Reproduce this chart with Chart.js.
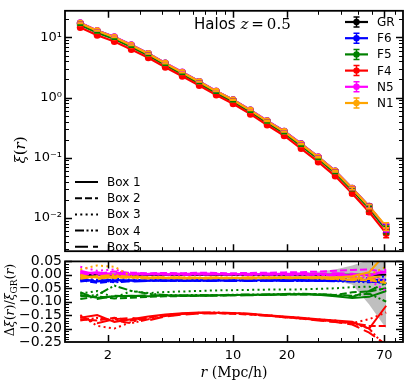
<!DOCTYPE html>
<html>
<head>
<meta charset="utf-8">
<script src="https://cdn.jsdelivr.net/npm/chart.js@4.4.1/dist/chart.umd.min.js"></script>
<style>
body { margin: 0; background: #fff; }
#wrap { position: relative; width: 410px; height: 385px; overflow: hidden; font-family: "DejaVu Sans", sans-serif; color: #000; }
.pane { position: absolute; left: 0; width: 410px; }
.lbl { position: absolute; white-space: nowrap; line-height: 14px; }
.math { font-family: "DejaVu Serif", serif; }
.rot { transform: translate(-50%, -50%) rotate(-90deg); }
</style>
</head>
<body>
<div id="wrap">
  <div class="pane" style="top:250px;height:135px"><canvas id="ratio"></canvas></div>
  <div class="pane" style="top:0;height:262px"><canvas id="xi"></canvas></div>
  <div class="lbl" style="left:194px;top:16px;font-size:15px;line-height:16px">Halos <span class="math"><i>z</i>&#8201;=&#8201;0.5</span></div>
  <div class="lbl rot math" style="left:20px;top:150px;font-size:15px"><i>ξ</i>(<i>r</i>)</div>
  <div class="lbl rot math" style="left:12px;top:300px;font-size:12.5px">Δ<i>ξ</i>(<i>r</i>)/<i>ξ</i><sub style="font-size:9px">GR</sub>(<i>r</i>)</div>
  <div class="lbl math" style="left:234px;top:372px;font-size:14px;transform:translate(-50%,-50%)"><i>r</i> (Mpc/h)</div>
</div>
<script>
'use strict';

// separation bins (Mpc/h)
var rVals = [1.40, 1.74, 2.17, 2.70, 3.36, 4.18, 5.20, 6.47, 8.05, 10.0, 12.5, 15.5, 19.3, 24.0, 29.9, 37.2, 46.3, 57.6, 71.7];

var models = ['GR', 'F6', 'F5', 'F4', 'N5', 'N1'];
var boxNames = ['Box 1', 'Box 2', 'Box 3', 'Box 4', 'Box 5'];
var colors = ['#000000', '#0000ff', '#008000', '#ff0000', '#ff00ff', '#ffa500'];
var boxDash = [[], [7, 3], [2, 3.3], [9, 2.5, 2, 2.5, 2, 2.5], [13, 5]];

// xi(r), mean over boxes
var xiGR = [17.5, 13.0, 10.2, 7.5, 5.4, 3.75, 2.65, 1.85, 1.28, 0.92, 0.62, 0.41, 0.275, 0.17, 0.103, 0.060, 0.031, 0.0155, 0.0068];
var xiF6 = [17.15, 12.74, 10.0, 7.35, 5.29, 3.67, 2.6, 1.81, 1.25, 0.90, 0.607, 0.402, 0.27, 0.167, 0.101, 0.0588, 0.0304, 0.0152, 0.0067];
var xiF5 = [16.2, 12.0, 9.43, 6.94, 5.0, 3.47, 2.45, 1.71, 1.18, 0.851, 0.574, 0.38, 0.254, 0.157, 0.0955, 0.0555, 0.0287, 0.0143, 0.0063];
var xiF4 = [14.7, 10.9, 8.57, 6.3, 4.6, 3.2, 2.27, 1.59, 1.10, 0.79, 0.53, 0.35, 0.232, 0.142, 0.085, 0.0495, 0.0253, 0.0125, 0.0055];
var xiN5 = [17.6, 13.1, 10.25, 7.54, 5.43, 3.77, 2.66, 1.86, 1.285, 0.924, 0.623, 0.412, 0.276, 0.171, 0.1035, 0.0602, 0.0311, 0.0156, 0.0069];
var xiN1 = [17.3, 12.9, 10.1, 7.43, 5.35, 3.71, 2.62, 1.83, 1.27, 0.91, 0.614, 0.406, 0.272, 0.168, 0.102, 0.0594, 0.0307, 0.0154, 0.0072];
// fractional error on xi
var relErr = [0.01, 0.01, 0.01, 0.01, 0.01, 0.01, 0.01, 0.01, 0.01, 0.01, 0.01, 0.01, 0.012, 0.015, 0.02, 0.03, 0.05, 0.08, 0.15];

// delta xi / xi_GR, one row per box
var dGR = [0, 0, 0, 0, 0, 0, 0, 0, 0, 0, 0, 0, 0, 0, 0, 0, 0, 0, 0];
var dF6 = [
  [-0.015, -0.025, -0.02, -0.02, -0.022, -0.02, -0.021, -0.02, -0.02, -0.021, -0.02, -0.02, -0.019, -0.02, -0.021, -0.02, -0.022, -0.02, -0.018],
  [-0.02, -0.03, -0.025, -0.022, -0.02, -0.023, -0.022, -0.021, -0.022, -0.02, -0.021, -0.022, -0.021, -0.02, -0.019, -0.021, -0.02, -0.024, -0.03],
  [-0.01, -0.02, -0.015, -0.018, -0.02, -0.019, -0.018, -0.02, -0.019, -0.018, -0.02, -0.019, -0.02, -0.018, -0.017, -0.018, -0.016, -0.012, -0.005],
  [-0.025, -0.018, -0.028, -0.024, -0.021, -0.022, -0.023, -0.022, -0.021, -0.022, -0.023, -0.022, -0.022, -0.023, -0.022, -0.024, -0.025, -0.028, -0.02],
  [-0.02, -0.022, -0.018, -0.025, -0.023, -0.02, -0.02, -0.023, -0.022, -0.023, -0.022, -0.021, -0.023, -0.022, -0.023, -0.022, -0.02, -0.018, -0.035]
];
var dF5 = [
  [-0.075, -0.085, -0.08, -0.078, -0.08, -0.076, -0.078, -0.077, -0.076, -0.075, -0.074, -0.073, -0.072, -0.072, -0.074, -0.08, -0.086, -0.082, -0.06],
  [-0.09, -0.08, -0.088, -0.085, -0.082, -0.08, -0.079, -0.078, -0.077, -0.076, -0.075, -0.075, -0.074, -0.073, -0.072, -0.075, -0.065, -0.062, -0.05],
  [-0.07, -0.06, -0.085, -0.06, -0.068, -0.064, -0.062, -0.06, -0.058, -0.057, -0.056, -0.055, -0.055, -0.054, -0.052, -0.05, -0.046, -0.044, -0.06],
  [-0.08, -0.075, -0.04, -0.06, -0.07, -0.075, -0.076, -0.075, -0.076, -0.074, -0.073, -0.073, -0.071, -0.07, -0.072, -0.075, -0.078, -0.07, -0.1],
  [-0.065, -0.09, -0.078, -0.08, -0.075, -0.078, -0.077, -0.078, -0.077, -0.076, -0.076, -0.074, -0.073, -0.072, -0.074, -0.077, -0.082, -0.06, -0.03]
];
var dF4 = [
  [-0.16, -0.15, -0.175, -0.165, -0.155, -0.148, -0.143, -0.14, -0.141, -0.142, -0.145, -0.15, -0.155, -0.16, -0.165, -0.17, -0.175, -0.2, -0.115],
  [-0.165, -0.17, -0.16, -0.17, -0.16, -0.15, -0.145, -0.142, -0.143, -0.145, -0.148, -0.152, -0.158, -0.162, -0.168, -0.175, -0.18, -0.19, -0.19],
  [-0.15, -0.19, -0.2, -0.175, -0.16, -0.15, -0.145, -0.143, -0.142, -0.143, -0.147, -0.15, -0.156, -0.16, -0.166, -0.17, -0.18, -0.165, -0.14],
  [-0.17, -0.16, -0.17, -0.18, -0.165, -0.153, -0.146, -0.141, -0.14, -0.142, -0.146, -0.151, -0.157, -0.163, -0.168, -0.173, -0.18, -0.2, -0.27],
  [-0.155, -0.18, -0.165, -0.16, -0.17, -0.155, -0.148, -0.144, -0.143, -0.144, -0.147, -0.152, -0.158, -0.163, -0.17, -0.176, -0.185, -0.215, -0.26]
];
var dN5 = [
  [0.005, 0.01, 0.0, 0.002, 0.003, 0.002, 0.003, 0.002, 0.003, 0.002, 0.003, 0.002, 0.003, 0.002, 0.003, 0.0, -0.002, 0.0, 0.01],
  [0.01, 0.005, 0.012, 0.008, 0.006, 0.007, 0.006, 0.008, 0.007, 0.006, 0.007, 0.008, 0.009, 0.01, 0.012, 0.015, 0.018, 0.02, 0.01],
  [0.03, 0.015, 0.02, 0.005, 0.004, 0.003, 0.004, 0.003, 0.002, 0.003, 0.002, 0.003, 0.002, 0.001, 0.0, -0.002, -0.005, -0.02, -0.06],
  [0.0, 0.005, -0.005, 0.0, 0.002, 0.001, 0.0, 0.001, 0.002, 0.001, 0.0, 0.001, 0.0, 0.001, 0.0, -0.003, -0.008, -0.01, -0.02],
  [0.015, 0.0, 0.008, 0.005, 0.004, 0.005, 0.004, 0.005, 0.004, 0.003, 0.004, 0.005, 0.004, 0.005, 0.004, 0.006, 0.004, -0.005, 0.02]
];
var dN1 = [
  [-0.005, -0.01, -0.005, -0.008, -0.01, -0.012, -0.011, -0.012, -0.011, -0.012, -0.011, -0.01, -0.011, -0.01, -0.009, -0.01, -0.005, 0.01, 0.08],
  [-0.01, -0.005, -0.012, -0.01, -0.012, -0.011, -0.013, -0.012, -0.013, -0.012, -0.013, -0.012, -0.011, -0.012, -0.013, -0.015, -0.018, -0.02, -0.03],
  [0.02, 0.035, 0.03, -0.005, -0.008, -0.01, -0.009, -0.01, -0.009, -0.01, -0.009, -0.008, -0.009, -0.01, -0.008, -0.012, -0.01, 0.0, 0.03],
  [-0.015, -0.005, 0.0, -0.012, -0.014, -0.012, -0.013, -0.014, -0.012, -0.013, -0.014, -0.012, -0.013, -0.012, -0.013, -0.016, -0.02, -0.015, -0.025],
  [0.0, -0.015, -0.008, -0.006, -0.01, -0.009, -0.01, -0.011, -0.01, -0.011, -0.01, -0.011, -0.01, -0.011, -0.012, -0.01, -0.014, -0.01, -0.005]
];
// GR box-to-box scatter band
var bandHi = [0.008, 0.006, 0.005, 0.004, 0.004, 0.004, 0.004, 0.004, 0.004, 0.004, 0.005, 0.005, 0.006, 0.008, 0.012, 0.02, 0.035, 0.055, 0.07];
var bandLo = [-0.008, -0.006, -0.005, -0.004, -0.004, -0.004, -0.004, -0.004, -0.004, -0.004, -0.005, -0.006, -0.008, -0.01, -0.014, -0.022, -0.036, -0.11, -0.2];

var xTickVals = [2, 10, 20, 70];
var yTopMajor = [0.01, 0.1, 1, 10];
var yBotMajor = [-0.25, -0.2, -0.15, -0.1, -0.05, 0, 0.05];

var xMin = 1.15, xMax = 89;
var xiAll = [xiGR, xiF6, xiF5, xiF4, xiN5, xiN1];
var dAll = [null, dF6, dF5, dF4, dN5, dN1];

function pts(arr) {
  return arr.map(function (v, i) { return { x: rVals[i], y: v }; });
}

function logMinors(lo, hi, majors) {
  var out = [];
  for (var n = -4; n <= 3; n++) {
    for (var k = 1; k < 10; k++) {
      var v = k * Math.pow(10, n);
      var isMaj = majors.some(function (m) { return Math.abs(m - v) / v < 1e-6; });
      if (v > lo && v < hi && !isMaj) out.push(v);
    }
  }
  return out;
}

var xMinor = logMinors(xMin, xMax, xTickVals);
var yTopMinor = logMinors(0.00278, 27.8, yTopMajor);
var yBotMinor = [];
for (var k = -25; k <= 5; k++) { if (k % 5 !== 0) yBotMinor.push(k / 100); }

// frame + inward ticks on all four sides
function framePlugin(yMaj, yMin) {
  return {
    id: 'frame',
    afterDraw: function (chart) {
      var ctx = chart.ctx, a = chart.chartArea;
      var xs = chart.scales.x, ys = chart.scales.y;
      ctx.save();
      ctx.strokeStyle = '#000';
      function tx(list, len, lw) {
        ctx.lineWidth = lw;
        list.forEach(function (v) {
          var p = Math.round(xs.getPixelForValue(v)) + 0.5;
          if (p < a.left || p > a.right) return;
          ctx.beginPath();
          ctx.moveTo(p, a.bottom); ctx.lineTo(p, a.bottom - len);
          ctx.moveTo(p, a.top); ctx.lineTo(p, a.top + len);
          ctx.stroke();
        });
      }
      function ty(list, len, lw) {
        ctx.lineWidth = lw;
        list.forEach(function (v) {
          var p = Math.round(ys.getPixelForValue(v)) + 0.5;
          if (p < a.top || p > a.bottom) return;
          ctx.beginPath();
          ctx.moveTo(a.left, p); ctx.lineTo(a.left + len, p);
          ctx.moveTo(a.right, p); ctx.lineTo(a.right - len, p);
          ctx.stroke();
        });
      }
      tx(xTickVals, 7, 1.5);
      tx(xMinor, 4, 1);
      ty(yMaj, 7, 1.5);
      ty(yMin, 4, 1);
      ctx.lineWidth = 1.8;
      ctx.strokeRect(a.left, a.top, a.right - a.left, a.bottom - a.top);
      ctx.restore();
    }
  };
}

var errorBars = {
  id: 'errorBars',
  afterDatasetsDraw: function (chart) {
    var ctx = chart.ctx, xs = chart.scales.x, ys = chart.scales.y;
    ctx.save();
    ctx.lineWidth = 1.5;
    xiAll.forEach(function (arr, m) {
      ctx.strokeStyle = colors[m];
      arr.forEach(function (v, i) {
        var px = xs.getPixelForValue(rVals[i]);
        var lo = ys.getPixelForValue(v * (1 - relErr[i]));
        var hi = ys.getPixelForValue(v * (1 + relErr[i]));
        ctx.beginPath();
        ctx.moveTo(px, lo); ctx.lineTo(px, hi);
        ctx.moveTo(px - 3, lo); ctx.lineTo(px + 3, lo);
        ctx.moveTo(px - 3, hi); ctx.lineTo(px + 3, hi);
        ctx.stroke();
      });
    });
    ctx.restore();
  }
};

// legend glyphs (text is html below)
var legendGlyphs = {
  id: 'legendGlyphs',
  afterDraw: function (chart) {
    var ctx = chart.ctx;
    ctx.save();
    models.forEach(function (m, i) {
      var y = 22 + 16.2 * i;
      ctx.strokeStyle = colors[i];
      ctx.fillStyle = colors[i];
      ctx.lineWidth = 2.2;
      ctx.beginPath(); ctx.moveTo(345, y); ctx.lineTo(368, y); ctx.stroke();
      ctx.lineWidth = 1.5;
      ctx.beginPath();
      ctx.moveTo(356.5, y - 5); ctx.lineTo(356.5, y + 5);
      ctx.moveTo(353.5, y - 5); ctx.lineTo(359.5, y - 5);
      ctx.moveTo(353.5, y + 5); ctx.lineTo(359.5, y + 5);
      ctx.stroke();
      ctx.beginPath(); ctx.arc(356.5, y, 3.2, 0, Math.PI * 2); ctx.fill();
    });
    boxNames.forEach(function (b, i) {
      var y = 182 + 16.2 * i;
      ctx.strokeStyle = '#000';
      ctx.lineWidth = 2;
      ctx.setLineDash(boxDash[i]);
      ctx.beginPath(); ctx.moveTo(75, y); ctx.lineTo(98, y); ctx.stroke();
    });
    ctx.restore();
  }
};

var wrap = document.getElementById('wrap');
models.forEach(function (m, i) {
  var d = document.createElement('div');
  d.className = 'lbl';
  d.style.cssText = 'left:377px;font-size:12px;top:' + (22 + 16.2 * i - 7) + 'px';
  d.textContent = m;
  wrap.appendChild(d);
});
boxNames.forEach(function (b, i) {
  var d = document.createElement('div');
  d.className = 'lbl';
  d.style.cssText = 'left:107px;font-size:12px;top:' + (182 + 16.2 * i - 7) + 'px';
  d.textContent = b;
  wrap.appendChild(d);
});

var sup = { '-': '\u207b', '0': '\u2070', '1': '\u00b9', '2': '\u00b2', '3': '\u00b3' };
var tickFont = { family: 'DejaVu Sans', size: 13 };

// top panel: xi(r)
var topSets = xiAll.map(function (arr, i) {
  return {
    label: models[i],
    data: pts(arr),
    borderColor: colors[i],
    backgroundColor: colors[i],
    borderWidth: 2.2,
    pointRadius: 3.5,
    pointBorderWidth: 0,
    tension: 0,
    order: 10 - i
  };
});

new Chart(document.getElementById('xi'), {
  type: 'line',
  data: { datasets: topSets },
  options: {
    responsive: true,
    maintainAspectRatio: false,
    animation: false,
    devicePixelRatio: 1,
    layout: { padding: { top: 7, right: 7, bottom: 4, left: 0 } },
    plugins: { legend: { display: false }, tooltip: { enabled: false } },
    scales: {
      x: { type: 'logarithmic', min: xMin, max: xMax, display: false },
      y: {
        type: 'logarithmic', min: 0.00278, max: 27.8,
        afterFit: function (s) { s.width = 65; },
        grid: { display: false, drawTicks: false },
        border: { display: false },
        ticks: {
          autoSkip: false, padding: 3, color: '#000', font: tickFont,
          callback: function (v) {
            var e = Math.log10(v);
            if (Math.abs(e - Math.round(e)) > 1e-6) return '';
            return '10' + String(Math.round(e)).split('').map(function (c) { return sup[c]; }).join('');
          }
        }
      }
    }
  },
  plugins: [errorBars, framePlugin(yTopMajor, yTopMinor), legendGlyphs]
});

// bottom panel: relative difference
var botSets = [{
  data: pts(bandLo), borderWidth: 0, pointRadius: 0, fill: false, order: 300
}, {
  data: pts(bandHi), borderWidth: 0, pointRadius: 0, fill: '-1',
  backgroundColor: 'rgba(128,128,128,0.5)', order: 299
}, {
  data: pts(dGR), borderColor: '#000', borderWidth: 2, pointRadius: 0, order: 200, clip: 0
}];
dAll.forEach(function (rows, m) {
  if (!rows) return;
  rows.forEach(function (row, b) {
    botSets.push({
      data: pts(row),
      borderColor: colors[m],
      borderWidth: 2,
      borderDash: boxDash[b],
      pointRadius: 0,
      tension: 0,
      fill: false,
      clip: 0,
      order: 100 - (m * 5 + b)
    });
  });
});

new Chart(document.getElementById('ratio'), {
  type: 'line',
  data: { datasets: botSets },
  options: {
    responsive: true,
    maintainAspectRatio: false,
    animation: false,
    devicePixelRatio: 1,
    layout: { padding: { top: 8, right: 7, bottom: 0, left: 0 } },
    plugins: { legend: { display: false }, tooltip: { enabled: false } },
    scales: {
      x: {
        type: 'logarithmic', min: xMin, max: xMax,
        afterFit: function (s) { s.height = 43; },
        grid: { display: false, drawTicks: false },
        border: { display: false },
        ticks: {
          autoSkip: false, maxRotation: 0, padding: 6, color: '#000', font: tickFont,
          callback: function (v) {
            return xTickVals.some(function (t) { return Math.abs(t - v) < 1e-6; }) ? String(v) : '';
          }
        }
      },
      y: {
        type: 'linear', min: -0.25, max: 0.05,
        afterFit: function (s) { s.width = 65; },
        grid: { display: false, drawTicks: false },
        border: { display: false },
        ticks: {
          stepSize: 0.05, autoSkip: false, padding: 3, color: '#000',
          font: { family: 'DejaVu Sans', size: 14 },
          callback: function (v) {
            var s = Math.abs(v) < 1e-9 ? '0.00' : v.toFixed(2);
            return s.replace('-', '\u2212');
          }
        }
      }
    }
  },
  plugins: [framePlugin(yBotMajor, yBotMinor)]
});
</script>
</body>
</html>
